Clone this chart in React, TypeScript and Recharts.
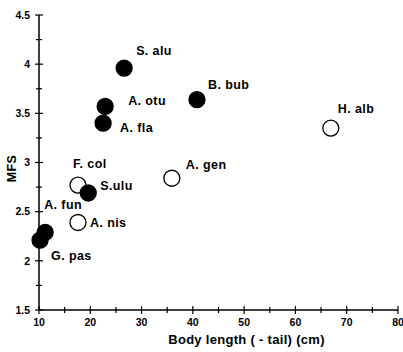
import React from 'react'
import { ScatterChart, Scatter, XAxis, YAxis } from 'recharts'

// species data
const species = ['S. alu', 'A. otu', 'A. fla', 'B. bub', 'H. alb', 'A. gen', 'F. col', 'S.ulu', 'A. nis', 'A. fun', 'G. pas']
const bodyLength = [26.6, 22.9, 22.5, 40.8, 66.9, 35.9, 17.6, 19.6, 17.6, 11.2, 10.2]
const mfs = [3.96, 3.57, 3.40, 3.64, 3.35, 2.84, 2.77, 2.69, 2.39, 2.29, 2.21]
const filled = [true, true, true, true, false, false, false, true, false, true, true]

const xTicks = [10, 15, 20, 25, 30, 35, 40, 45, 50, 55, 60, 65, 70, 75, 80]
const yTicks = [1.5, 1.75, 2, 2.25, 2.5, 2.75, 3, 3.25, 3.5, 3.75, 4, 4.25, 4.5]

// label placement relative to each marker (layout only)
const labelOffset: Record<string, [number, number]> = {
    'S. alu': [12, -13],
    'A. otu': [23, -1],
    'A. fla': [17, 9],
    'B. bub': [11, -11],
    'H. alb': [7, -15],
    'A. gen': [14, -9],
    'F. col': [-5, -17],
    'S.ulu': [12, -3],
    'A. nis': [12, 5],
    'A. fun': [-1, -23],
    'G. pas': [11, 20],
}

const rows = species.map((name, i) => ({ name, x: bodyLength[i], y: mfs[i], filled: filled[i] }))
const solid = rows.filter(r => r.filled)
const hollow = rows.filter(r => !r.filled)

const font = 'Arial, "Liberation Sans", sans-serif'

const Dot = (props: any) => {
    const { cx, cy, payload } = props
    const [dx, dy] = labelOffset[payload.name] || [10, 0]
    return (
        <g>
            <circle cx={cx} cy={cy} r={8} fill={payload.filled ? '#000' : '#fff'} stroke="#000" strokeWidth={1.3} />
            <text x={cx + dx} y={cy + dy} fontFamily={font} fontWeight="bold" fontSize={12.5} letterSpacing={0.4} fill="#000">
                {payload.name}
            </text>
        </g>
    )
}

const XTick = (props: any) => {
    const { x, y, payload } = props
    const axisY = y - 8
    const major = payload.value % 10 === 0
    const h = major ? 4 : 3
    return (
        <g>
            <line x1={x} x2={x} y1={axisY - h} y2={axisY + h} stroke="#000" strokeWidth={1.2} />
            {major && (
                <text x={x} y={y + 1} dy="0.71em" textAnchor="middle" fontFamily={font} fontWeight="bold" fontSize={10.5} fill="#000">
                    {payload.value}
                </text>
            )}
        </g>
    )
}

const YTick = (props: any) => {
    const { x, y, payload } = props
    const axisX = x + 8
    const major = Math.abs(payload.value * 2 - Math.round(payload.value * 2)) < 1e-6
    const h = major ? 4 : 3
    return (
        <g>
            <line x1={axisX - h} x2={axisX + h} y1={y} y2={y} stroke="#000" strokeWidth={1.2} />
            {major && (
                <text x={x - 1} y={y} dy="0.355em" textAnchor="end" fontFamily={font} fontWeight="bold" fontSize={10.5} fill="#000">
                    {payload.value}
                </text>
            )}
        </g>
    )
}

const YTitle = (props: any) => {
    const { viewBox } = props
    const cx = 12
    const cy = viewBox.y + viewBox.height / 2 + 6
    return (
        <text x={cx} y={cy} transform={`rotate(-90 ${cx} ${cy})`} textAnchor="middle" dy="0.355em"
            fontFamily={font} fontWeight="bold" fontSize={12.5} letterSpacing={0.3} fill="#000">MFS</text>
    )
}

const XTitle = (props: any) => {
    const { viewBox } = props
    const cx = viewBox.x + viewBox.width / 2 + 28
    return (
        <text x={cx} y={344} textAnchor="middle" fontFamily={font} fontWeight="bold" fontSize={13} letterSpacing={0.3} fill="#000">
            Body length ( - tail) (cm)
        </text>
    )
}

const App = () => {
    return (
        <div style={{ position: 'absolute', left: 0, top: 0, width: 403, height: 352, background: '#fff' }}>
            <ScatterChart width={403} height={352} margin={{ top: 15, right: 5, bottom: 0, left: 0 }}>
                <XAxis
                    type="number"
                    dataKey="x"
                    domain={[10, 80]}
                    ticks={xTicks}
                    interval={0}
                    height={42}
                    tickSize={4}
                    tickMargin={4}
                    tickLine={false}
                    tick={<XTick />}
                    axisLine={{ stroke: '#000', strokeWidth: 1.5 }}
                    label={<XTitle />}
                />
                <YAxis
                    type="number"
                    dataKey="y"
                    domain={[1.5, 4.5]}
                    ticks={yTicks}
                    interval={0}
                    width={39}
                    tickSize={4}
                    tickMargin={4}
                    tickLine={false}
                    tick={<YTick />}
                    axisLine={{ stroke: '#000', strokeWidth: 1.5 }}
                    label={<YTitle />}
                />
                <Scatter data={hollow} shape={<Dot />} isAnimationActive={false} />
                <Scatter data={solid} shape={<Dot />} isAnimationActive={false} />
            </ScatterChart>
        </div>
    )
}

export default App
